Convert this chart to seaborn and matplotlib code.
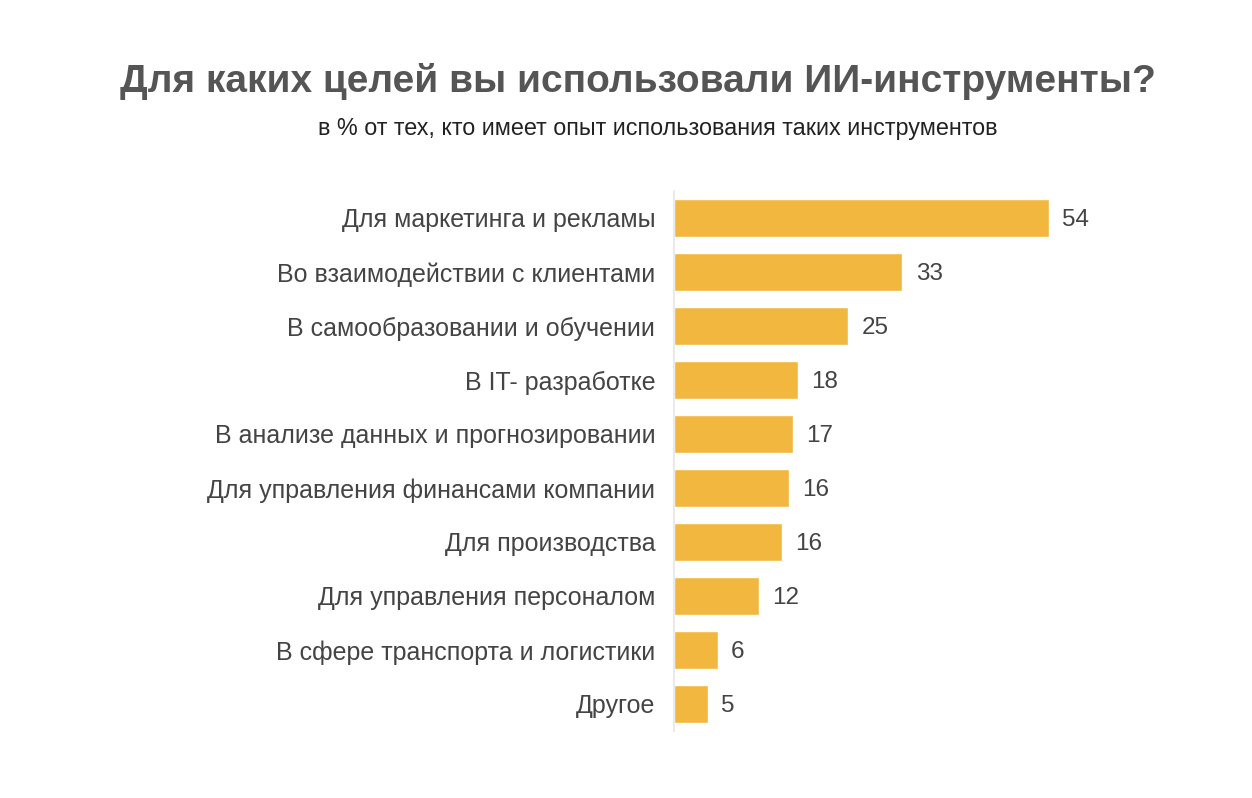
import matplotlib
matplotlib.use("Agg")
import matplotlib.pyplot as plt
import seaborn as sns
import pandas as pd

categories = [
    "Для маркетинга и рекламы",
    "Во взаимодействии с клиентами",
    "В самообразовании и обучении",
    "В IT- разработке",
    "В анализе данных и прогнозировании",
    "Для управления финансами компании",
    "Для производства",
    "Для управления персоналом",
    "В сфере транспорта и логистики",
    "Другое",
]
values = [54, 32.9, 25.1, 17.9, 17.1, 16.6, 15.5, 12.2, 6.3, 4.9]
value_labels = ["54", "33", "25", "18", "17", "16", "16", "12", "6", "5"]

title = "Для каких целей вы использовали ИИ-инструменты?"
subtitle = "в % от тех, кто имеет опыт использования таких инструментов"

sns.set_style("white")
plt.rcParams["font.family"] = ["Liberation Sans", "DejaVu Sans"]

df = pd.DataFrame({"cat": categories, "val": values})

fig = plt.figure(figsize=(12.52, 7.98), dpi=100)
ax = fig.add_axes([674 / 1252, 1 - 731 / 798, (1120 - 674) / 1252, (731 - 191) / 798])

sns.barplot(data=df, x="val", y="cat", color="#F2B73F", saturation=1,
            width=0.69, ax=ax, orient="h")

ax.set_xlim(0, (1120 - 674) / (375 / 54))
ax.set_ylim(len(categories) - 0.5, -0.5)
ax.set_xlabel("")
ax.set_ylabel("")
ax.set_xticks([])
ax.tick_params(axis="y", length=0, pad=13.5, labelsize=18, labelcolor="#444444")
for s in ["top", "right", "bottom"]:
    ax.spines[s].set_visible(False)
ax.spines["left"].set_color("#e6e6e6")
ax.spines["left"].set_linewidth(1.2)

for i, (v, lab) in enumerate(zip(values, value_labels)):
    ax.annotate(lab, xy=(v, i), xytext=(9.5, -1.5), textcoords="offset points",
                ha="left", va="center", fontsize=17.5, color="#444444")

fig.text(638 / 1252, 1 - 81 / 798, title, ha="center", va="center",
         fontsize=28, fontweight="bold", color="#555555")
fig.text(658 / 1252, 1 - 128 / 798, subtitle, ha="center", va="center",
         fontsize=16.8, color="#222222")

fig.savefig("out.png", dpi=100, facecolor="white")
